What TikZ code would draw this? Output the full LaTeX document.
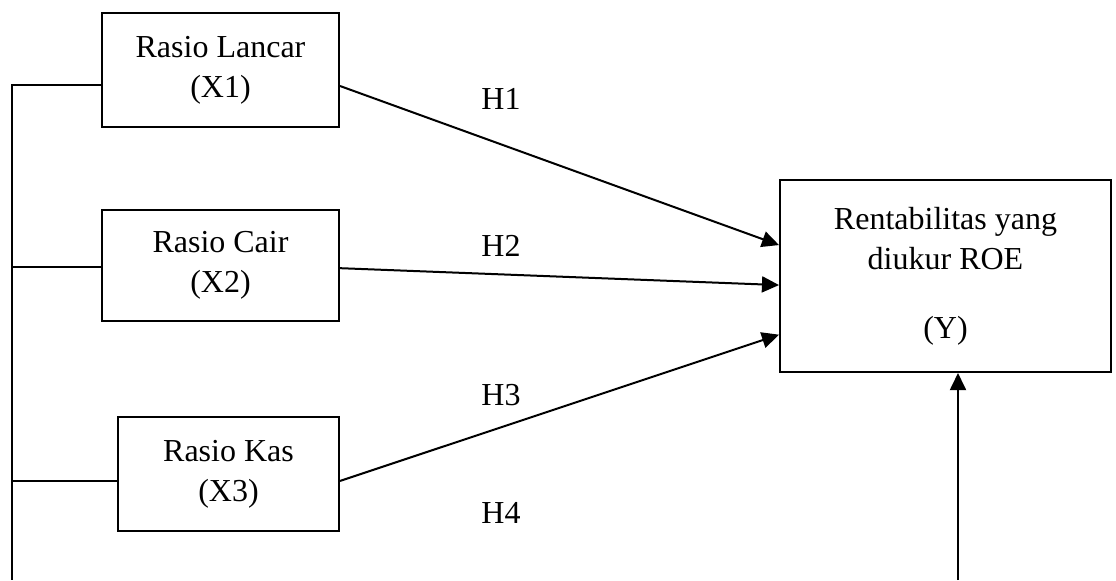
\documentclass[tikz,border=0pt]{standalone}
\usepackage{fontspec}
\setmainfont{Liberation Serif}
\usetikzlibrary{arrows.meta}

\begin{document}
\begin{tikzpicture}[x=0.375pt, y=-0.375pt, line width=0.75pt,
		font=\fontsize{12pt}{15pt}\selectfont,
		var/.style={rectangle, draw, align=center},
		hyp/.style={-{Triangle[length=6.4pt,width=6pt]}}]
		\useasboundingbox (0,0) rectangle (1116,580);

		\draw (220.5,70) node [var, minimum width=88.9pt, minimum height=42.75pt] (x1) {Rasio Lancar\\(X1)};
		\draw (220.5,265.5) node [var, minimum width=88.9pt, minimum height=41.6pt] (x2) {Rasio Cair\\(X2)};
		\draw (228.5,474) node [var, minimum width=82.9pt, minimum height=42.75pt] (x3) {Rasio Kas\\(X3)};
		\draw (945.5,276) node [var, minimum width=124.1pt, minimum height=72pt] (y) {Rentabilitas yang\\diukur ROE\\[11pt](Y)};

		\draw (501,99) node (h1) {H1};
		\draw (501,246) node (h2) {H2};
		\draw (501,395) node (h3) {H3};
		\draw (501,513) node (h4) {H4};

		\coordinate (ltop) at (12,85);
		\coordinate (lbot) at (12,580);
		\coordinate (ybot) at (958,580);

		\draw (x1.west |- ltop) -- (ltop) -- (lbot);
		\draw (x2.west |- 0,267) -- (ltop |- 0,267);
		\draw (x3.west |- 0,481) -- (ltop |- 0,481);

		\draw 
		([yshift=-6pt]x1.east) edge [hyp] ([yshift=11.6pt]y.west)
		([yshift=-1pt]x2.east) edge [hyp] ([yshift=-3.4pt]y.west)
		([yshift=-2.6pt]x3.east) edge [hyp] ([yshift=-22pt]y.west)
		(ybot) edge [hyp] (ybot |- y.south);
		;
	\end{tikzpicture}
\end{document}
